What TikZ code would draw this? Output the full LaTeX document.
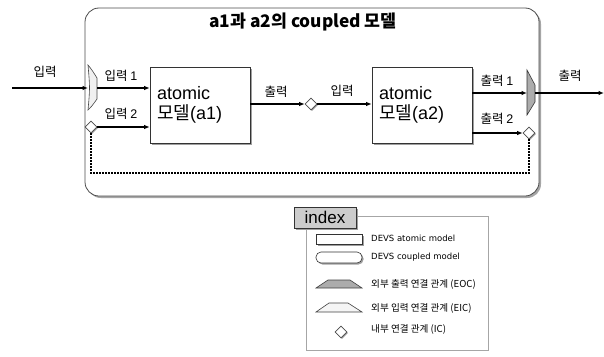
\documentclass[tikz,border=0pt]{standalone}
\usepackage{fontspec}
\setmainfont{Liberation Sans}
\newfontfamily\kr{Noto Sans CJK KR}
\newfontfamily\dv{DejaVu Sans}
\usetikzlibrary{shapes.geometric,shadows,arrows.meta}

\begin{document}
\begin{tikzpicture}[x=1pt,y=-1pt,
  arr/.style={line width=1.2pt,-{Latex[length=5.5pt,width=4.5pt]}},
  shade1/.style={drop shadow={shadow xshift=1.5pt,shadow yshift=-1.5pt,fill=gray!75,opacity=1}},
  atom/.style={draw=black!80, line width=0.6pt, fill=white, minimum width=100pt,
    minimum height=76pt, text width=86pt, align=left,
    font=\fontsize{18}{20}\selectfont, shade1},
  ic/.style={diamond, draw=gray!60!black, fill=white, line width=0.6pt,
    minimum width=12pt, minimum height=12pt, inner sep=0pt,
    drop shadow={shadow xshift=1pt,shadow yshift=-1pt,fill=gray!80,opacity=1}},
  lbl/.style={font=\kr\fontsize{12.5}{14}\selectfont, inner sep=0pt},
  dots/.style={line width=1.6pt, dash pattern=on 1.6pt off 1.4pt},
  legtxt/.style={anchor=west, inner sep=0pt, font=\kr\fontsize{9.6}{11}\selectfont},
]
\useasboundingbox (0,0) rectangle (604,356);

% coupled model frame
\draw[line width=0.8pt, draw=gray!60!black, fill=white, rounded corners=14pt,
  drop shadow={shadow xshift=2pt,shadow yshift=-2pt,fill=gray!70,opacity=1}]
  (85,8) rectangle (539,196);
\node[font=\kr\bfseries\fontsize{17.3}{19}\selectfont] (title) at (303,22)
  {a1과 a2의 coupled 모델};

% atomic models
\node[atom] (a1) at (200,105) {atomic\\{\kr 모델}(a1)};
\node[atom] (a2) at (422,105) {atomic\\{\kr 모델}(a2)};

% external input coupling
\draw[draw=gray!55!black, fill=gray!12, line width=0.6pt]
  (88,65) .. controls (92,70) .. (97,78) -- (97,99) .. controls (92,106) .. (88,110)
  .. controls (90,88) .. cycle;
\coordinate (eicL) at (88,88);
\coordinate (eicR) at (97,88);

% external output coupling
\draw[draw=black!80, fill=gray!65, line width=0.6pt]
  (527,70) -- (535,85) -- (535,102) -- (527,115) -- cycle;
\coordinate (eocL) at (527,93);
\coordinate (eocR) at (535,93);

% internal couplings
\node[ic] (d1) at (91,127) {};
\node[ic] (d2) at (311,104) {};
\node[ic] (d3) at (529,133) {};

% ends of the outer connectors
\coordinate (inS) at (12,88);
\coordinate (outE) at (604,93);
\coordinate (bot) at (0,173);

% connectors
\draw[arr] (inS) -- (eicL);
\draw[arr] (eicR) -- (eicR -| a1.west);
\draw[arr] (d1.east) -- (d1.east -| a1.west);
\draw[arr] (d2.west -| a1.east) -- (d2.west);
\draw[arr] (d2.east) -- (d2.east -| a2.west);
\draw[arr] (eocL -| a2.east) -- (eocL);
\draw[arr] (d3.west -| a2.east) -- (d3.west);
\draw[arr] (eocR) -- (outE);
\draw[dots] (d3.south) -- (d3.south |- bot) -- (d1.south |- bot) -- (d1.south);

% connector labels
\node[lbl] (l1) at (45,72) {입력};
\node[lbl] (l2) at (121,76) {입력 {\rmfamily 1}};
\node[lbl] (l3) at (121,114) {입력 {\rmfamily 2}};
\node[lbl] (l4) at (276,92) {출력};
\node[lbl] (l5) at (342,91) {입력};
\node[lbl] (l6) at (497,81) {출력 {\rmfamily 1}};
\node[lbl] (l7) at (497,119) {출력 {\rmfamily 2}};
\node[lbl] (l8) at (570,76) {출력};

% legend
\draw[draw=gray!70, line width=0.6pt] (306,216) rectangle (488,350);
\node[draw=black!80, fill=gray!40, line width=0.6pt, minimum width=62pt,
  minimum height=21pt, inner sep=0pt, font=\fontsize{17}{18}\selectfont, shade1]
  (idx) at (325,217.5) {index};

\node[draw=black!80, fill=white, line width=0.6pt, minimum width=46pt,
  minimum height=10pt, inner sep=0pt, shade1] (ka) at (339,239) {};
\node[draw=black!80, fill=white, line width=0.6pt, minimum width=46pt,
  minimum height=11pt, inner sep=0pt, rounded corners=5pt, shade1] (kc) at (339,257.5) {};
\draw[draw=gray!50!black, fill=gray!65, line width=0.6pt]
  (316,288) -- (328,280) -- (350,280) -- (362,288) -- cycle;
\draw[draw=gray!50!black, fill=gray!8, line width=0.6pt]
  (316,312) -- (329,303) -- (348,303) -- (362,312) -- cycle;
\node[ic] (ki) at (341,332) {};

\node[legtxt, font=\dv\fontsize{8.5}{10}\selectfont] (ta) at (371,238) {DEVS atomic model};
\node[legtxt, font=\dv\fontsize{8.5}{10}\selectfont] (tc) at (371,257) {DEVS coupled model};
\node[legtxt] (te) at (371,284) {외부 출력 연결 관계 (EOC)};
\node[legtxt] (tf) at (371,308) {외부 입력 연결 관계 (EIC)};
\node[legtxt] (tg) at (371,329) {내부 연결 관계 (IC)};
\end{tikzpicture}
\end{document}
